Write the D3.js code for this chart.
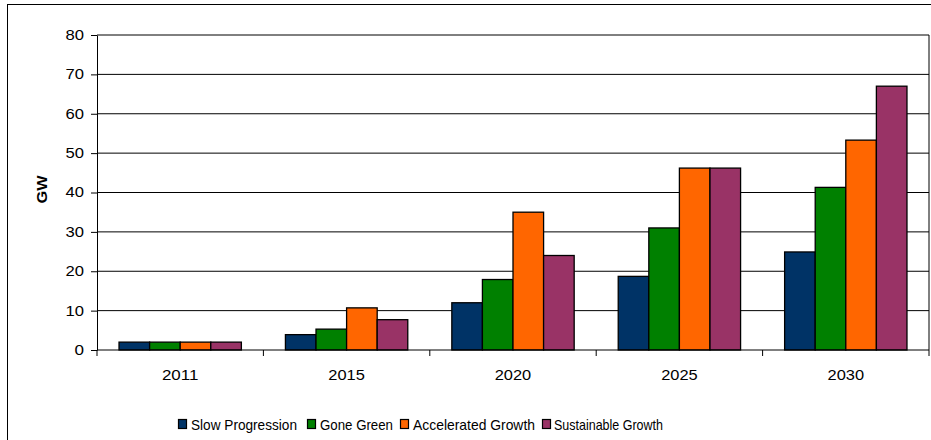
<!DOCTYPE html>
<html>
<head>
<meta charset="utf-8">
<script src="https://cdn.jsdelivr.net/npm/d3@7/dist/d3.min.js"></script>
<style>
  html, body { margin: 0; padding: 0; background: #fff; }
  svg { display: block; font-family: "Liberation Sans", Arial, sans-serif; }
</style>
</head>
<body>
<svg id="chart" width="931" height="440"></svg>
<script>
// Installed capacity by scenario (GW)
const years = ["2011", "2015", "2020", "2025", "2030"];
const seriesNames = ["Slow Progression", "Gone Green", "Accelerated Growth", "Sustainable Growth"];
const slowProgression = [2.0, 3.9, 12.0, 18.7, 24.9];
const goneGreen = [2.0, 5.3, 17.9, 31.0, 41.3];
const acceleratedGrowth = [2.0, 10.7, 35.0, 46.2, 53.3];
const sustainableGrowth = [2.0, 7.7, 24.0, 46.2, 67.0];
const yTicks = [0, 10, 20, 30, 40, 50, 60, 70, 80];
const colors = ["#003366", "#008000", "#FF6600", "#993366"];

const seriesValues = [slowProgression, goneGreen, acceleratedGrowth, sustainableGrowth];

const svg = d3.select("#chart");

// outer frame
svg.append("rect")
  .attr("x", 7.5).attr("y", 4.5)
  .attr("width", 940).attr("height", 450)
  .attr("fill", "#fff").attr("stroke", "#000").attr("stroke-width", 1);

const plot = { left: 97, right: 929, top: 35, bottom: 350 };

const x = d3.scaleBand().domain(years).range([plot.left, plot.right]).padding(0);
const inner = d3.scaleBand().domain(seriesNames)
  .range([0, x.bandwidth()]).paddingOuter(0.72).paddingInner(0);
const y = d3.scaleLinear().domain([0, 80]).range([plot.bottom, plot.top]);

// horizontal gridlines
svg.append("g")
  .selectAll("line")
  .data(yTicks.filter(d => d > 0))
  .join("line")
  .attr("x1", plot.left).attr("x2", plot.right)
  .attr("y1", d => y(d)).attr("y2", d => y(d))
  .attr("stroke", "#000").attr("stroke-width", 1);

// right border of the plot area
svg.append("line")
  .attr("x1", plot.right).attr("x2", plot.right)
  .attr("y1", plot.top).attr("y2", plot.bottom)
  .attr("stroke", "#000");

// bars
const groups = svg.append("g")
  .selectAll("g")
  .data(years)
  .join("g")
  .attr("transform", d => `translate(${x(d)},0)`);

groups.selectAll("rect")
  .data((yr, i) => seriesNames.map((name, s) => ({ name, s, value: seriesValues[s][i] })))
  .join("rect")
  .attr("x", d => inner(d.name))
  .attr("width", inner.bandwidth())
  .attr("y", d => y(d.value))
  .attr("height", d => y(0) - y(d.value))
  .attr("fill", d => colors[d.s])
  .attr("stroke", "#000").attr("stroke-width", 1.3);

// y axis
const yAxis = svg.append("g")
  .attr("transform", `translate(${plot.left},0)`)
  .call(d3.axisLeft(y).tickValues(yTicks).tickSize(6).tickPadding(7).tickSizeOuter(0));
yAxis.select(".domain").attr("stroke", "#000");
yAxis.selectAll("text")
  .attr("font-size", 14)
  .attr("font-family", "Liberation Sans, Arial, sans-serif")
  .attr("fill", "#000")
  .attr("textLength", d => d === 0 ? 9.5 : 18.5)
  .attr("lengthAdjust", "spacingAndGlyphs");

// x axis: ticks sit on category boundaries
const xAxis = svg.append("g")
  .attr("transform", `translate(0,${plot.bottom})`);
xAxis.append("line")
  .attr("x1", plot.left).attr("x2", plot.right)
  .attr("stroke", "#000");
xAxis.selectAll("line.tick")
  .data(years.concat(["end"]))
  .join("line")
  .attr("class", "tick")
  .attr("x1", (d, i) => i < years.length ? x(d) : x(years[years.length - 1]) + x.bandwidth())
  .attr("x2", (d, i) => i < years.length ? x(d) : x(years[years.length - 1]) + x.bandwidth())
  .attr("y1", 0).attr("y2", 6)
  .attr("stroke", "#000");
xAxis.selectAll("text")
  .data(years)
  .join("text")
  .attr("x", d => x(d) + x.bandwidth() / 2)
  .attr("y", 29.5)
  .attr("text-anchor", "middle")
  .attr("font-size", 15)
  .attr("textLength", 36.5)
  .attr("lengthAdjust", "spacingAndGlyphs")
  .attr("fill", "#000")
  .text(d => d);

// y axis title
svg.append("text")
  .attr("transform", "translate(47,189.5) rotate(-90)")
  .attr("text-anchor", "middle")
  .attr("font-size", 14)
  .attr("font-weight", "bold")
  .attr("textLength", 28)
  .attr("lengthAdjust", "spacingAndGlyphs")
  .text("GW");

// legend
const legendItems = [
  { sx: 178, tx: 191, w: 106 },
  { sx: 307, tx: 320, w: 73 },
  { sx: 400, tx: 413, w: 122 },
  { sx: 542, tx: 554, w: 109 }
];
const legend = svg.append("g");
legend.selectAll("rect")
  .data(seriesNames)
  .join("rect")
  .attr("x", (d, i) => legendItems[i].sx + 0.5)
  .attr("y", 419.5)
  .attr("width", 8).attr("height", 9)
  .attr("fill", (d, i) => colors[i])
  .attr("stroke", "#000").attr("stroke-width", 1.2);
legend.selectAll("text")
  .data(seriesNames)
  .join("text")
  .attr("x", (d, i) => legendItems[i].tx)
  .attr("y", 429.5)
  .attr("font-size", 14.5)
  .attr("textLength", (d, i) => legendItems[i].w)
  .attr("lengthAdjust", "spacingAndGlyphs")
  .attr("fill", "#000")
  .text(d => d);
</script>
</body>
</html>
